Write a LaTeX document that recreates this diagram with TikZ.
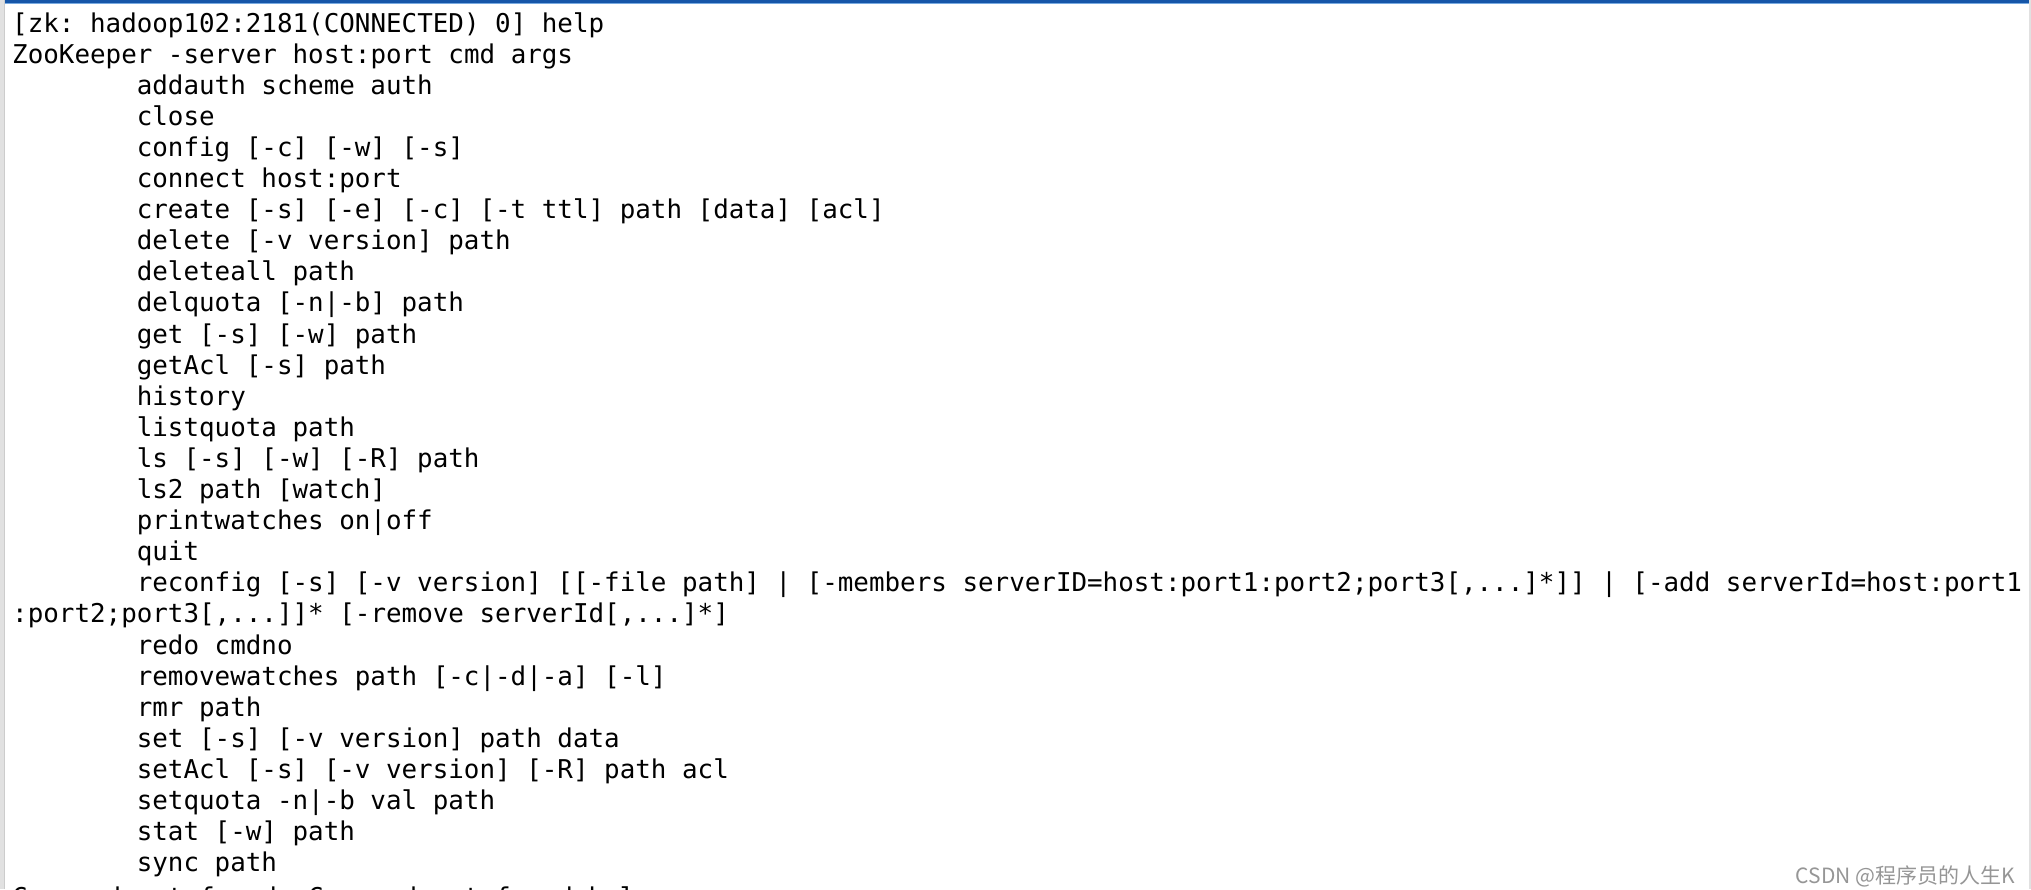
\documentclass[tikz,border=0pt]{standalone}
\usepackage{fontspec}
\setmonofont{DejaVu Sans Mono}
\newfontfamily\cjk{Noto Sans CJK SC}
\definecolor{barblue}{RGB}{22,86,168}
\definecolor{barlight}{RGB}{120,170,225}
\definecolor{edgegray}{RGB}{225,225,225}
\definecolor{wmgray}{RGB}{150,150,150}
\begin{document}
\begin{tikzpicture}[x=1pt,y=-1pt,
  term/.style={anchor=base west, inner sep=0pt, text=black,
    font=\ttfamily\frenchspacing\fontsize{25.88pt}{31pt}\selectfont}]
\useasboundingbox (0,0) rectangle (2031,889);
\clip (0,0) rectangle (2031,889);
\fill[white] (0,0) rectangle (2031,889);
% window frame
\fill[edgegray] (0,0) rectangle (4,889);
\draw[line width=1pt, gray!40] (4.5,0) -- (4.5,889);
\fill[barblue] (5,0) rectangle (2031,2.5);
\fill[barlight] (5,2.5) rectangle (2031,3.5);
\fill[edgegray] (2029,0) rectangle (2031,889);
% terminal text
\node[term] (l1)  at (12,32.0)   {[zk: hadoop102:2181(CONNECTED) 0] help};
\node[term] (l2)  at (12,63.1)   {ZooKeeper -server host:port cmd args};
\node[term] (l3)  at (136.6,94.2)  {addauth scheme auth};
\node[term] (l4)  at (136.6,125.3) {close};
\node[term] (l5)  at (136.6,156.4) {config [-c] [-w] [-s]};
\node[term] (l6)  at (136.6,187.5) {connect host:port};
\node[term] (l7)  at (136.6,218.6) {create [-s] [-e] [-c] [-t ttl] path [data] [acl]};
\node[term] (l8)  at (136.6,249.7) {delete [-v version] path};
\node[term] (l9)  at (136.6,280.8) {deleteall path};
\node[term] (l10) at (136.6,311.9) {delquota [-n|-b] path};
\node[term] (l11) at (136.6,343.0) {get [-s] [-w] path};
\node[term] (l12) at (136.6,374.1) {getAcl [-s] path};
\node[term] (l13) at (136.6,405.2) {history};
\node[term] (l14) at (136.6,436.3) {listquota path};
\node[term] (l15) at (136.6,467.4) {ls [-s] [-w] [-R] path};
\node[term] (l16) at (136.6,498.5) {ls2 path [watch]};
\node[term] (l17) at (136.6,529.6) {printwatches on|off};
\node[term] (l18) at (136.6,560.7) {quit};
\node[term] (l19) at (136.6,591.8) {reconfig [-s] [-v version] [[-file path] | [-members serverID=host:port1:port2;port3[,...]*]] | [-add serverId=host:port1};
\node[term] (l20) at (12,622.9)    {:port2;port3[,...]]* [-remove serverId[,...]*]};
\node[term] (l21) at (136.6,654.0) {redo cmdno};
\node[term] (l22) at (136.6,685.1) {removewatches path [-c|-d|-a] [-l]};
\node[term] (l23) at (136.6,716.2) {rmr path};
\node[term] (l24) at (136.6,747.3) {set [-s] [-v version] path data};
\node[term] (l25) at (136.6,778.4) {setAcl [-s] [-v version] [-R] path acl};
\node[term] (l26) at (136.6,809.5) {setquota -n|-b val path};
\node[term] (l27) at (136.6,840.6) {stat [-w] path};
\node[term] (l28) at (136.6,871.7) {sync path};
\node[term] (l29) at (12,906)      {Command not found: Command not found help};
% watermark
\node[anchor=base east, inner sep=0pt, text=wmgray,
  font=\cjk\fontsize{21pt}{21pt}\selectfont] (wm) at (2015,883) {CSDN @程序员的人生K};
\end{tikzpicture}
\end{document}
